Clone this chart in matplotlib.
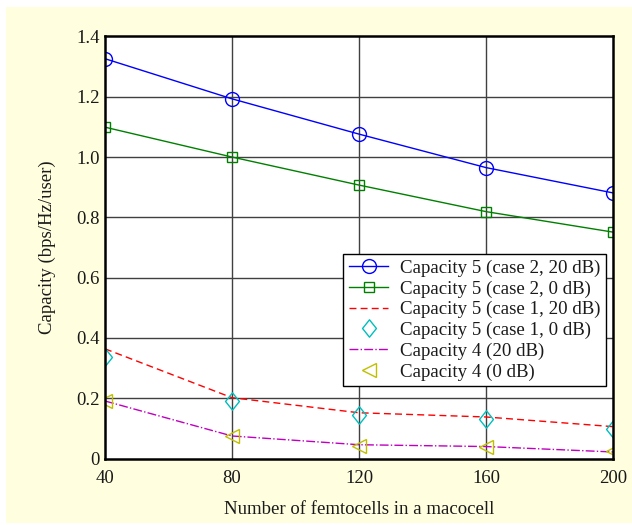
import matplotlib
matplotlib.use("Agg")
import matplotlib.pyplot as plt
from matplotlib.patches import Rectangle
from matplotlib.path import Path

x = [40, 80, 120, 160, 200]
cap5_case2_20 = [1.326, 1.193, 1.076, 0.965, 0.881]
cap5_case2_0 = [1.099, 1.000, 0.907, 0.819, 0.751]
cap5_case1_20 = [0.364, 0.202, 0.152, 0.138, 0.106]
cap5_case1_0 = [0.337, 0.191, 0.145, 0.131, 0.098]
cap4_20 = [0.191, 0.075, 0.046, 0.040, 0.022]
cap4_0 = [0.191, 0.075, 0.043, 0.040, 0.025]

labels = ["Capacity 5 (case 2, 20 dB)", "Capacity 5 (case 2, 0 dB)",
          "Capacity 5 (case 1, 20 dB)", "Capacity 5 (case 1, 0 dB)",
          "Capacity 4 (20 dB)", "Capacity 4 (0 dB)"]
xticks = [40, 80, 120, 160, 200]
yticks = [0, 0.2, 0.4, 0.6, 0.8, 1.0, 1.2, 1.4]
yticklabels = ["0", "0.2", "0.4", "0.6", "0.8", "1.0", "1.2", "1.4"]

plt.rcParams['font.family'] = ['Liberation Serif', 'DejaVu Serif']
W, H = 632, 525
fig = plt.figure(figsize=(W/100, H/100), dpi=100, facecolor='white')
fig.patches.append(Rectangle((6/W, 2/H), 1 - 6/W, 1 - 9/H, transform=fig.transFigure,
                             facecolor='#FFFFE0', edgecolor='none', zorder=-10))
L, R, T, B = 105, 613, 36.4, 458.6
ax = fig.add_axes([L/W, 1 - B/H, (R-L)/W, (B-T)/H])
ax.set_facecolor('white')

diamond = Path([(0, 1), (0.8, 0), (0, -1), (-0.8, 0), (0, 1)],
               [Path.MOVETO, Path.LINETO, Path.LINETO, Path.LINETO, Path.CLOSEPOLY])

ax.plot(x, cap5_case2_20, linestyle='-', color='#0000FF', lw=1, marker='o', ms=10, mfc='none', mew=1, label=labels[0])
ax.plot(x, cap5_case2_0, linestyle='-', color='#008000', lw=1, marker='s', ms=7.5, mfc='none', mew=1, label=labels[1])
ax.plot(x, cap5_case1_20, linestyle='--', color='#FF0000', lw=1, dashes=(5, 3), label=labels[2])
ax.plot(x, cap5_case1_0, linestyle='none', color='#00BFBF', marker=diamond, ms=12.5, mfc='none', mew=1, label=labels[3])
ax.plot(x, cap4_20, linestyle='-.', color='#BF00BF', lw=1, label=labels[4])
ax.plot(x, cap4_0, linestyle='none', color='#BFBF00', marker='<', ms=10, mfc='none', mew=1, label=labels[5])

for xi in xticks[1:-1]:
    ax.axvline(xi, color='#404040', lw=1, zorder=0.5)
for yi in yticks[1:-1]:
    ax.axhline(yi, color='#404040', lw=1, zorder=0.5)

ax.set_xlim(40, 200)
ax.set_ylim(0, 1.4)
ax.set_xticks(xticks)
ax.set_yticks(yticks)
ax.set_yticklabels(yticklabels)
ax.tick_params(direction='in', length=0, labelsize=13.5, colors='#1a1a1a')
ax.tick_params(axis='x', pad=8)
ax.tick_params(axis='y', pad=4)
for s in ax.spines.values():
    s.set_linewidth(1.8)
    s.set_color('black')
    s.set_zorder(5)

ax.set_xlabel("Number of femtocells in a macocell", fontsize=13.5, labelpad=10, color='#1a1a1a')
ax.set_ylabel("Capacity (bps/Hz/user)", fontsize=13.5, labelpad=14, color='#1a1a1a')

leg = ax.legend(loc='upper left', bbox_to_anchor=((343-L)/(R-L), (B-254)/(B-T)),
                borderaxespad=0, fontsize=13.6, frameon=True, fancybox=False,
                edgecolor='black', framealpha=1, handlelength=2.1, handletextpad=0.6,
                labelspacing=0.18, borderpad=0.3)
leg.get_frame().set_linewidth(1.0)
for t in leg.get_texts():
    t.set_color('#1a1a1a')

fig.savefig("out.png", dpi=100, facecolor='white')
